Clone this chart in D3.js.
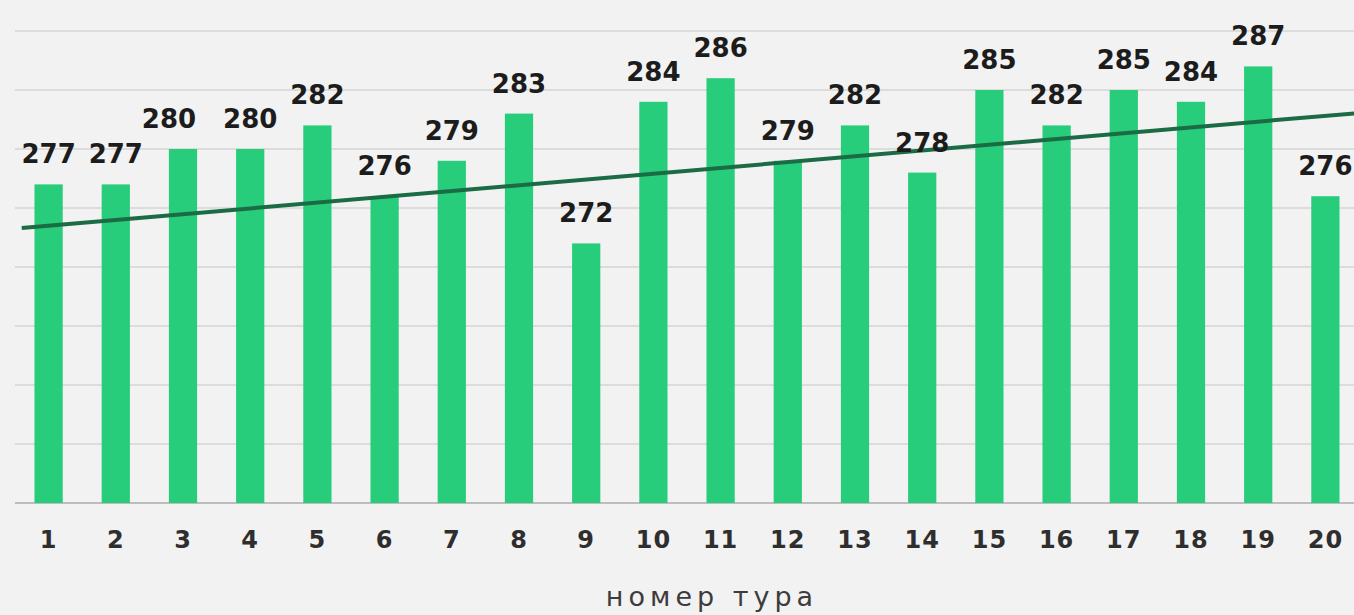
<!DOCTYPE html>
<html>
<head>
    <meta charset="utf-8">
    <title>Очки по турам</title>
    <script src="https://d3js.org/d3.v7.min.js"></script>
    <style>
        body {
            margin: 0;
            background: #f2f2f2;
            overflow: hidden;
        }
        #chart svg {
            display: block;
        }
        .value-label {
            font-family: "DejaVu Sans", sans-serif;
            font-weight: bold;
            font-size: 26px;
            fill: #1c1c1c;
        }
        .tick-label {
            font-family: "DejaVu Sans", sans-serif;
            font-weight: bold;
            font-size: 24px;
            fill: #2e2e2e;
        }
        .axis-title {
            font-family: "DejaVu Sans", sans-serif;
            font-size: 27px;
            fill: #3c3c3c;
        }
    </style>
</head>
<body>
    <div id="chart"></div>

    <script>
        // номер тура и очки
        const tours = ["1", "2", "3", "4", "5", "6", "7", "8", "9", "10",
                       "11", "12", "13", "14", "15", "16", "17", "18", "19", "20"];
        const points = [277, 277, 280, 280, 282, 276, 279, 283, 272, 284,
                        286, 279, 282, 278, 285, 282, 285, 284, 287, 276];
        const gridValues = [250, 255, 260, 265, 270, 275, 280, 285, 290];
        // линия тренда: [тур, очки] на концах
        const trendTours = [0.6, 21];
        const trendPoints = [273.3, 283.3];
        const axisTitle = "номер тура";

        const width = 1354;
        const height = 615;

        const svg = d3.select("#chart")
            .append("svg")
            .attr("width", width)
            .attr("height", height);

        svg.append("rect")
            .attr("width", width)
            .attr("height", height)
            .attr("fill", "#f2f2f2");

        const x = d3.scaleBand()
            .domain(tours)
            .range([15, 1359])
            .paddingInner(0.58)
            .paddingOuter(0.29);

        const y = d3.scaleLinear()
            .domain([250, 290])
            .range([503, 31]);

        const bw = x.bandwidth();
        const xTour = d3.scaleLinear()
            .domain([1, 20])
            .range([x("1") + bw / 2, x("20") + bw / 2]);

        // сетка
        svg.append("g")
            .selectAll("line")
            .data(gridValues)
            .join("line")
            .attr("x1", 15)
            .attr("x2", width)
            .attr("y1", d => y(d))
            .attr("y2", d => y(d))
            .attr("stroke", d => d === 250 ? "#bdbdbd" : "#dcdcdc")
            .attr("stroke-width", 2);

        // столбцы
        svg.append("g")
            .selectAll("rect")
            .data(points)
            .join("rect")
            .attr("x", (d, i) => x(tours[i]))
            .attr("y", d => y(d))
            .attr("width", bw)
            .attr("height", d => y(250) - y(d))
            .attr("fill", "#27cd7b");

        // тренд
        const trendLine = d3.line()
            .x(d => xTour(d[0]))
            .y(d => y(d[1]));

        svg.append("path")
            .datum(trendTours.map((t, i) => [t, trendPoints[i]]))
            .attr("d", trendLine)
            .attr("fill", "none")
            .attr("stroke", "#1b6b45")
            .attr("stroke-width", 4);

        // подписи значений
        const labelNudge = { 2: -14 };
        svg.append("g")
            .selectAll("text")
            .data(points)
            .join("text")
            .attr("class", "value-label")
            .attr("x", (d, i) => x(tours[i]) + bw / 2 + (labelNudge[i] || 0))
            .attr("y", d => y(d) - 21)
            .attr("text-anchor", "middle")
            .text(d => d);

        // подписи туров
        svg.append("g")
            .selectAll("text")
            .data(tours)
            .join("text")
            .attr("class", "tick-label")
            .attr("x", d => x(d) + bw / 2)
            .attr("y", 548)
            .attr("text-anchor", "middle")
            .attr("letter-spacing", 1)
            .text(d => d);

        svg.append("text")
            .attr("class", "axis-title")
            .attr("x", 712)
            .attr("y", 606)
            .attr("text-anchor", "middle")
            .attr("letter-spacing", 5)
            .text(axisTitle);
    </script>
</body>
</html>
